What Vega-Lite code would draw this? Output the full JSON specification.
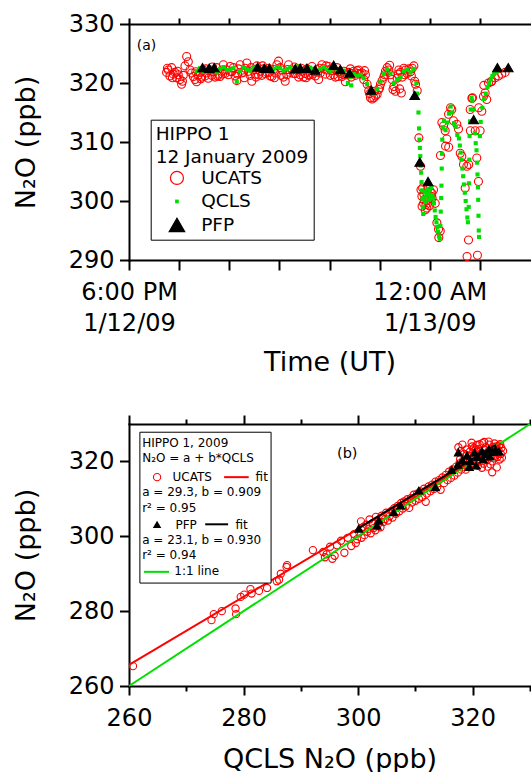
{
"$schema": "https://vega.github.io/schema/vega-lite/v6.json",
"padding": {"left": 12, "top": 12, "right": 0, "bottom": 0},
"background": "white",
"bounds": "flush",
"spacing": 164,
"config": {
  "font": "DejaVu Sans",
  "view": {"stroke": null},
  "axis": {"domainColor": "black", "domainWidth": 2, "domainCap": "square", "tickColor": "black", "tickWidth": 2, "labelColor": "black", "titleColor": "black", "labelFont": "DejaVu Sans", "titleFont": "DejaVu Sans", "labelFontSize": 24, "titleFontSize": 27, "titleFontWeight": "normal", "grid": false, "labelFlush": false, "labelOverlap": false}
},
"datasets": {
  "timeseries": [
{"time":"2009-01-12T18:45Z","n2o":321.8,"inst":"UCATS"},{"time":"2009-01-12T18:46Z","n2o":322.5,"inst":"UCATS"},{"time":"2009-01-12T18:47Z","n2o":322.2,"inst":"UCATS"},{"time":"2009-01-12T18:49Z","n2o":321.2,"inst":"UCATS"},{"time":"2009-01-12T18:51Z","n2o":322.6,"inst":"UCATS"},{"time":"2009-01-12T18:52Z","n2o":320.9,"inst":"UCATS"},{"time":"2009-01-12T18:53Z","n2o":321.5,"inst":"UCATS"},{"time":"2009-01-12T18:55Z","n2o":321.8,"inst":"UCATS"},{"time":"2009-01-12T18:57Z","n2o":320.9,"inst":"UCATS"},{"time":"2009-01-12T18:58Z","n2o":322.0,"inst":"UCATS"},{"time":"2009-01-12T18:59Z","n2o":321.4,"inst":"UCATS"},{"time":"2009-01-12T19:01Z","n2o":320.6,"inst":"UCATS"},{"time":"2009-01-12T19:03Z","n2o":319.8,"inst":"UCATS"},{"time":"2009-01-12T19:04Z","n2o":320.3,"inst":"UCATS"},{"time":"2009-01-12T19:05Z","n2o":321.3,"inst":"UCATS"},{"time":"2009-01-12T19:07Z","n2o":322.9,"inst":"UCATS"},{"time":"2009-01-12T19:09Z","n2o":324.5,"inst":"UCATS"},{"time":"2009-01-12T19:11Z","n2o":323.6,"inst":"UCATS"},{"time":"2009-01-12T19:13Z","n2o":322.2,"inst":"UCATS"},{"time":"2009-01-12T19:15Z","n2o":321.7,"inst":"UCATS"},{"time":"2009-01-12T19:17Z","n2o":321.1,"inst":"UCATS"},{"time":"2009-01-12T19:19Z","n2o":320.6,"inst":"UCATS"},{"time":"2009-01-12T19:20Z","n2o":321.9,"inst":"UCATS"},{"time":"2009-01-12T19:21Z","n2o":320.2,"inst":"UCATS"},{"time":"2009-01-12T19:23Z","n2o":321.3,"inst":"UCATS"},{"time":"2009-01-12T19:25Z","n2o":321.8,"inst":"UCATS"},{"time":"2009-01-12T19:26Z","n2o":320.7,"inst":"UCATS"},{"time":"2009-01-12T19:27Z","n2o":321.0,"inst":"UCATS"},{"time":"2009-01-12T19:29Z","n2o":322.2,"inst":"UCATS"},{"time":"2009-01-12T19:31Z","n2o":321.2,"inst":"UCATS"},{"time":"2009-01-12T19:32Z","n2o":322.4,"inst":"UCATS"},{"time":"2009-01-12T19:33Z","n2o":321.7,"inst":"UCATS"},{"time":"2009-01-12T19:35Z","n2o":320.8,"inst":"UCATS"},{"time":"2009-01-12T19:37Z","n2o":322.2,"inst":"UCATS"},{"time":"2009-01-12T19:39Z","n2o":321.3,"inst":"UCATS"},{"time":"2009-01-12T19:40Z","n2o":322.7,"inst":"UCATS"},{"time":"2009-01-12T19:41Z","n2o":321.9,"inst":"UCATS"},{"time":"2009-01-12T19:43Z","n2o":321.0,"inst":"UCATS"},{"time":"2009-01-12T19:45Z","n2o":322.6,"inst":"UCATS"},{"time":"2009-01-12T19:46Z","n2o":321.2,"inst":"UCATS"},{"time":"2009-01-12T19:47Z","n2o":321.5,"inst":"UCATS"},{"time":"2009-01-12T19:49Z","n2o":321.1,"inst":"UCATS"},{"time":"2009-01-12T19:51Z","n2o":322.0,"inst":"UCATS"},{"time":"2009-01-12T19:52Z","n2o":321.5,"inst":"UCATS"},{"time":"2009-01-12T19:53Z","n2o":323.1,"inst":"UCATS"},{"time":"2009-01-12T19:55Z","n2o":321.6,"inst":"UCATS"},{"time":"2009-01-12T19:57Z","n2o":322.2,"inst":"UCATS"},{"time":"2009-01-12T19:59Z","n2o":321.4,"inst":"UCATS"},{"time":"2009-01-12T20:01Z","n2o":322.8,"inst":"UCATS"},{"time":"2009-01-12T20:02Z","n2o":322.0,"inst":"UCATS"},{"time":"2009-01-12T20:03Z","n2o":321.9,"inst":"UCATS"},{"time":"2009-01-12T20:05Z","n2o":322.6,"inst":"UCATS"},{"time":"2009-01-12T20:07Z","n2o":321.2,"inst":"UCATS"},{"time":"2009-01-12T20:09Z","n2o":320.4,"inst":"UCATS"},{"time":"2009-01-12T20:10Z","n2o":321.5,"inst":"UCATS"},{"time":"2009-01-12T20:11Z","n2o":322.4,"inst":"UCATS"},{"time":"2009-01-12T20:13Z","n2o":323.1,"inst":"UCATS"},{"time":"2009-01-12T20:15Z","n2o":321.7,"inst":"UCATS"},{"time":"2009-01-12T20:17Z","n2o":321.8,"inst":"UCATS"},{"time":"2009-01-12T20:18Z","n2o":320.9,"inst":"UCATS"},{"time":"2009-01-12T20:19Z","n2o":322.5,"inst":"UCATS"},{"time":"2009-01-12T20:21Z","n2o":323.4,"inst":"UCATS"},{"time":"2009-01-12T20:23Z","n2o":322.0,"inst":"UCATS"},{"time":"2009-01-12T20:25Z","n2o":321.3,"inst":"UCATS"},{"time":"2009-01-12T20:26Z","n2o":322.6,"inst":"UCATS"},{"time":"2009-01-12T20:27Z","n2o":320.3,"inst":"UCATS"},{"time":"2009-01-12T20:29Z","n2o":322.2,"inst":"UCATS"},{"time":"2009-01-12T20:31Z","n2o":321.5,"inst":"UCATS"},{"time":"2009-01-12T20:32Z","n2o":321.0,"inst":"UCATS"},{"time":"2009-01-12T20:33Z","n2o":322.9,"inst":"UCATS"},{"time":"2009-01-12T20:35Z","n2o":321.4,"inst":"UCATS"},{"time":"2009-01-12T20:37Z","n2o":322.0,"inst":"UCATS"},{"time":"2009-01-12T20:39Z","n2o":321.3,"inst":"UCATS"},{"time":"2009-01-12T20:40Z","n2o":322.9,"inst":"UCATS"},{"time":"2009-01-12T20:41Z","n2o":322.4,"inst":"UCATS"},{"time":"2009-01-12T20:43Z","n2o":321.6,"inst":"UCATS"},{"time":"2009-01-12T20:45Z","n2o":321.8,"inst":"UCATS"},{"time":"2009-01-12T20:47Z","n2o":322.5,"inst":"UCATS"},{"time":"2009-01-12T20:48Z","n2o":321.8,"inst":"UCATS"},{"time":"2009-01-12T20:49Z","n2o":321.2,"inst":"UCATS"},{"time":"2009-01-12T20:51Z","n2o":321.1,"inst":"UCATS"},{"time":"2009-01-12T20:53Z","n2o":322.3,"inst":"UCATS"},{"time":"2009-01-12T20:54Z","n2o":320.9,"inst":"UCATS"},{"time":"2009-01-12T20:55Z","n2o":321.7,"inst":"UCATS"},{"time":"2009-01-12T20:57Z","n2o":323.1,"inst":"UCATS"},{"time":"2009-01-12T20:59Z","n2o":323.7,"inst":"UCATS"},{"time":"2009-01-12T21:01Z","n2o":322.6,"inst":"UCATS"},{"time":"2009-01-12T21:02Z","n2o":321.3,"inst":"UCATS"},{"time":"2009-01-12T21:03Z","n2o":322.2,"inst":"UCATS"},{"time":"2009-01-12T21:05Z","n2o":321.0,"inst":"UCATS"},{"time":"2009-01-12T21:07Z","n2o":320.3,"inst":"UCATS"},{"time":"2009-01-12T21:09Z","n2o":321.4,"inst":"UCATS"},{"time":"2009-01-12T21:10Z","n2o":322.3,"inst":"UCATS"},{"time":"2009-01-12T21:11Z","n2o":323.1,"inst":"UCATS"},{"time":"2009-01-12T21:13Z","n2o":321.8,"inst":"UCATS"},{"time":"2009-01-12T21:15Z","n2o":322.2,"inst":"UCATS"},{"time":"2009-01-12T21:17Z","n2o":321.6,"inst":"UCATS"},{"time":"2009-01-12T21:18Z","n2o":322.7,"inst":"UCATS"},{"time":"2009-01-12T21:19Z","n2o":321.6,"inst":"UCATS"},{"time":"2009-01-12T21:21Z","n2o":322.4,"inst":"UCATS"},{"time":"2009-01-12T21:23Z","n2o":321.0,"inst":"UCATS"},{"time":"2009-01-12T21:25Z","n2o":321.4,"inst":"UCATS"},{"time":"2009-01-12T21:26Z","n2o":322.5,"inst":"UCATS"},{"time":"2009-01-12T21:27Z","n2o":322.0,"inst":"UCATS"},{"time":"2009-01-12T21:29Z","n2o":321.0,"inst":"UCATS"},{"time":"2009-01-12T21:31Z","n2o":321.6,"inst":"UCATS"},{"time":"2009-01-12T21:32Z","n2o":320.9,"inst":"UCATS"},{"time":"2009-01-12T21:33Z","n2o":322.4,"inst":"UCATS"},{"time":"2009-01-12T21:35Z","n2o":321.3,"inst":"UCATS"},{"time":"2009-01-12T21:37Z","n2o":321.4,"inst":"UCATS"},{"time":"2009-01-12T21:39Z","n2o":322.8,"inst":"UCATS"},{"time":"2009-01-12T21:40Z","n2o":321.5,"inst":"UCATS"},{"time":"2009-01-12T21:41Z","n2o":321.9,"inst":"UCATS"},{"time":"2009-01-12T21:43Z","n2o":321.2,"inst":"UCATS"},{"time":"2009-01-12T21:45Z","n2o":322.3,"inst":"UCATS"},{"time":"2009-01-12T21:47Z","n2o":320.6,"inst":"UCATS"},{"time":"2009-01-12T21:48Z","n2o":322.5,"inst":"UCATS"},{"time":"2009-01-12T21:49Z","n2o":321.7,"inst":"UCATS"},{"time":"2009-01-12T21:51Z","n2o":323.1,"inst":"UCATS"},{"time":"2009-01-12T21:53Z","n2o":322.4,"inst":"UCATS"},{"time":"2009-01-12T21:55Z","n2o":321.5,"inst":"UCATS"},{"time":"2009-01-12T21:56Z","n2o":322.9,"inst":"UCATS"},{"time":"2009-01-12T21:57Z","n2o":322.2,"inst":"UCATS"},{"time":"2009-01-12T21:59Z","n2o":322.8,"inst":"UCATS"},{"time":"2009-01-12T22:01Z","n2o":321.3,"inst":"UCATS"},{"time":"2009-01-12T22:02Z","n2o":322.4,"inst":"UCATS"},{"time":"2009-01-12T22:03Z","n2o":322.1,"inst":"UCATS"},{"time":"2009-01-12T22:05Z","n2o":321.4,"inst":"UCATS"},{"time":"2009-01-12T22:07Z","n2o":321.0,"inst":"UCATS"},{"time":"2009-01-12T22:09Z","n2o":322.6,"inst":"UCATS"},{"time":"2009-01-12T22:10Z","n2o":321.1,"inst":"UCATS"},{"time":"2009-01-12T22:11Z","n2o":321.9,"inst":"UCATS"},{"time":"2009-01-12T22:13Z","n2o":321.6,"inst":"UCATS"},{"time":"2009-01-12T22:15Z","n2o":321.1,"inst":"UCATS"},{"time":"2009-01-12T22:17Z","n2o":322.0,"inst":"UCATS"},{"time":"2009-01-12T22:18Z","n2o":321.4,"inst":"UCATS"},{"time":"2009-01-12T22:19Z","n2o":320.2,"inst":"UCATS"},{"time":"2009-01-12T22:21Z","n2o":321.4,"inst":"UCATS"},{"time":"2009-01-12T22:23Z","n2o":321.8,"inst":"UCATS"},{"time":"2009-01-12T22:25Z","n2o":322.4,"inst":"UCATS"},{"time":"2009-01-12T22:26Z","n2o":321.0,"inst":"UCATS"},{"time":"2009-01-12T22:27Z","n2o":321.6,"inst":"UCATS"},{"time":"2009-01-12T22:29Z","n2o":322.0,"inst":"UCATS"},{"time":"2009-01-12T22:31Z","n2o":321.3,"inst":"UCATS"},{"time":"2009-01-12T22:33Z","n2o":322.1,"inst":"UCATS"},{"time":"2009-01-12T22:34Z","n2o":321.6,"inst":"UCATS"},{"time":"2009-01-12T22:35Z","n2o":322.2,"inst":"UCATS"},{"time":"2009-01-12T22:37Z","n2o":321.5,"inst":"UCATS"},{"time":"2009-01-12T22:39Z","n2o":321.7,"inst":"UCATS"},{"time":"2009-01-12T22:41Z","n2o":320.6,"inst":"UCATS"},{"time":"2009-01-12T22:42Z","n2o":322.1,"inst":"UCATS"},{"time":"2009-01-12T22:43Z","n2o":321.4,"inst":"UCATS"},{"time":"2009-01-12T22:45Z","n2o":319.8,"inst":"UCATS"},{"time":"2009-01-12T22:47Z","n2o":318.7,"inst":"UCATS"},{"time":"2009-01-12T22:48Z","n2o":318.2,"inst":"UCATS"},{"time":"2009-01-12T22:49Z","n2o":317.5,"inst":"UCATS"},{"time":"2009-01-12T22:51Z","n2o":317.3,"inst":"UCATS"},{"time":"2009-01-12T22:53Z","n2o":317.5,"inst":"UCATS"},{"time":"2009-01-12T22:54Z","n2o":318.6,"inst":"UCATS"},{"time":"2009-01-12T22:55Z","n2o":317.8,"inst":"UCATS"},{"time":"2009-01-12T22:57Z","n2o":318.1,"inst":"UCATS"},{"time":"2009-01-12T22:59Z","n2o":318.9,"inst":"UCATS"},{"time":"2009-01-12T23:00Z","n2o":319.2,"inst":"UCATS"},{"time":"2009-01-12T23:01Z","n2o":319.8,"inst":"UCATS"},{"time":"2009-01-12T23:03Z","n2o":320.4,"inst":"UCATS"},{"time":"2009-01-12T23:05Z","n2o":321.0,"inst":"UCATS"},{"time":"2009-01-12T23:06Z","n2o":321.4,"inst":"UCATS"},{"time":"2009-01-12T23:07Z","n2o":322.0,"inst":"UCATS"},{"time":"2009-01-12T23:09Z","n2o":322.6,"inst":"UCATS"},{"time":"2009-01-12T23:11Z","n2o":322.2,"inst":"UCATS"},{"time":"2009-01-12T23:12Z","n2o":323.0,"inst":"UCATS"},{"time":"2009-01-12T23:13Z","n2o":321.4,"inst":"UCATS"},{"time":"2009-01-12T23:15Z","n2o":320.6,"inst":"UCATS"},{"time":"2009-01-12T23:16Z","n2o":318.9,"inst":"UCATS"},{"time":"2009-01-12T23:17Z","n2o":319.4,"inst":"UCATS"},{"time":"2009-01-12T23:19Z","n2o":318.6,"inst":"UCATS"},{"time":"2009-01-12T23:21Z","n2o":320.8,"inst":"UCATS"},{"time":"2009-01-12T23:22Z","n2o":321.5,"inst":"UCATS"},{"time":"2009-01-12T23:23Z","n2o":322.2,"inst":"UCATS"},{"time":"2009-01-12T23:24Z","n2o":319.0,"inst":"UCATS"},{"time":"2009-01-12T23:25Z","n2o":321.8,"inst":"UCATS"},{"time":"2009-01-12T23:26Z","n2o":318.3,"inst":"UCATS"},{"time":"2009-01-12T23:27Z","n2o":321.0,"inst":"UCATS"},{"time":"2009-01-12T23:29Z","n2o":322.5,"inst":"UCATS"},{"time":"2009-01-12T23:30Z","n2o":321.4,"inst":"UCATS"},{"time":"2009-01-12T23:31Z","n2o":322.2,"inst":"UCATS"},{"time":"2009-01-12T23:33Z","n2o":321.6,"inst":"UCATS"},{"time":"2009-01-12T23:35Z","n2o":322.4,"inst":"UCATS"},{"time":"2009-01-12T23:37Z","n2o":321.9,"inst":"UCATS"},{"time":"2009-01-12T23:38Z","n2o":321.2,"inst":"UCATS"},{"time":"2009-01-12T23:39Z","n2o":322.5,"inst":"UCATS"},{"time":"2009-01-12T23:41Z","n2o":322.9,"inst":"UCATS"},{"time":"2009-01-12T23:42Z","n2o":320.3,"inst":"UCATS"},{"time":"2009-01-12T23:43Z","n2o":319.8,"inst":"UCATS"},{"time":"2009-01-12T23:45Z","n2o":318.7,"inst":"UCATS"},
{"time":"2009-01-12T23:47:00Z","n2o":310.7,"inst":"UCATS"},{"time":"2009-01-12T23:49:00Z","n2o":305.9,"inst":"UCATS"},{"time":"2009-01-12T23:49:30Z","n2o":301.9,"inst":"UCATS"},{"time":"2009-01-12T23:50:35Z","n2o":300.8,"inst":"UCATS"},{"time":"2009-01-12T23:50:50Z","n2o":299.1,"inst":"UCATS"},{"time":"2009-01-12T23:51:30Z","n2o":302.2,"inst":"UCATS"},{"time":"2009-01-12T23:52:35Z","n2o":299.6,"inst":"UCATS"},{"time":"2009-01-12T23:52:50Z","n2o":301.2,"inst":"UCATS"},{"time":"2009-01-12T23:53:30Z","n2o":300.2,"inst":"UCATS"},{"time":"2009-01-12T23:54:36Z","n2o":298.5,"inst":"UCATS"},{"time":"2009-01-12T23:55:30Z","n2o":299.4,"inst":"UCATS"},{"time":"2009-01-12T23:56:32Z","n2o":298.8,"inst":"UCATS"},{"time":"2009-01-12T23:56:50Z","n2o":301.0,"inst":"UCATS"},{"time":"2009-01-12T23:57:30Z","n2o":302.0,"inst":"UCATS"},{"time":"2009-01-12T23:58:34Z","n2o":300.3,"inst":"UCATS"},{"time":"2009-01-12T23:59:30Z","n2o":299.2,"inst":"UCATS"},{"time":"2009-01-13T00:00:36Z","n2o":301.6,"inst":"UCATS"},{"time":"2009-01-13T00:01:30Z","n2o":300.8,"inst":"UCATS"},{"time":"2009-01-13T00:02:30Z","n2o":301.3,"inst":"UCATS"},{"time":"2009-01-13T00:02:50Z","n2o":300.5,"inst":"UCATS"},{"time":"2009-01-13T00:04:30Z","n2o":301.9,"inst":"UCATS"},{"time":"2009-01-13T00:06:36Z","n2o":299.6,"inst":"UCATS"},{"time":"2009-01-13T00:08:30Z","n2o":296.3,"inst":"UCATS"},{"time":"2009-01-13T00:10:30Z","n2o":295.2,"inst":"UCATS"},{"time":"2009-01-13T00:10:50Z","n2o":293.8,"inst":"UCATS"},{"time":"2009-01-13T00:12:36Z","n2o":294.9,"inst":"UCATS"},{"time":"2009-01-13T00:12:50Z","n2o":307.7,"inst":"UCATS"},{"time":"2009-01-13T00:14:30Z","n2o":313.3,"inst":"UCATS"},{"time":"2009-01-13T00:16:30Z","n2o":312.7,"inst":"UCATS"},{"time":"2009-01-13T00:18:30Z","n2o":311.9,"inst":"UCATS"},{"time":"2009-01-13T00:18:54Z","n2o":309.3,"inst":"UCATS"},{"time":"2009-01-13T00:20:24Z","n2o":310.5,"inst":"UCATS"},{"time":"2009-01-13T00:22:30Z","n2o":314.7,"inst":"UCATS"},{"time":"2009-01-13T00:22:40Z","n2o":309.1,"inst":"UCATS"},{"time":"2009-01-13T00:24:54Z","n2o":315.8,"inst":"UCATS"},{"time":"2009-01-13T00:26:24Z","n2o":315.5,"inst":"UCATS"},{"time":"2009-01-13T00:28:24Z","n2o":313.6,"inst":"UCATS"},{"time":"2009-01-13T00:32:24Z","n2o":313.0,"inst":"UCATS"},{"time":"2009-01-13T00:34:24Z","n2o":312.2,"inst":"UCATS"},{"time":"2009-01-13T00:36:30Z","n2o":308.1,"inst":"UCATS"},{"time":"2009-01-13T00:38:24Z","n2o":307.6,"inst":"UCATS"},{"time":"2009-01-13T00:40:24Z","n2o":306.2,"inst":"UCATS"},{"time":"2009-01-13T00:42:24Z","n2o":302.2,"inst":"UCATS"},{"time":"2009-01-13T00:44:24Z","n2o":305.9,"inst":"UCATS"},{"time":"2009-01-13T00:44:40Z","n2o":290.6,"inst":"UCATS"},{"time":"2009-01-13T00:46:24Z","n2o":293.4,"inst":"UCATS"},{"time":"2009-01-13T00:46:40Z","n2o":306.2,"inst":"UCATS"},{"time":"2009-01-13T00:48:24Z","n2o":315.5,"inst":"UCATS"},{"time":"2009-01-13T00:48:40Z","n2o":311.9,"inst":"UCATS"},{"time":"2009-01-13T00:50:24Z","n2o":317.4,"inst":"UCATS"},{"time":"2009-01-13T00:51:12Z","n2o":317.5,"inst":"UCATS"},{"time":"2009-01-13T00:54:24Z","n2o":311.9,"inst":"UCATS"},{"time":"2009-01-13T00:56:18Z","n2o":307.3,"inst":"UCATS"},{"time":"2009-01-13T00:57:06Z","n2o":290.8,"inst":"UCATS"},{"time":"2009-01-13T00:58:18Z","n2o":303.3,"inst":"UCATS"},{"time":"2009-01-13T00:58:40Z","n2o":315.8,"inst":"UCATS"},{"time":"2009-01-13T01:00:18Z","n2o":311.9,"inst":"UCATS"},{"time":"2009-01-13T01:02:18Z","n2o":315.2,"inst":"UCATS"},{"time":"2009-01-13T01:04:18Z","n2o":317.7,"inst":"UCATS"},{"time":"2009-01-13T01:04:40Z","n2o":319.6,"inst":"UCATS"},{"time":"2009-01-13T01:06:18Z","n2o":318.3,"inst":"UCATS"},{"time":"2009-01-13T01:08:12Z","n2o":317.2,"inst":"UCATS"},{"time":"2009-01-13T01:10:18Z","n2o":320.0,"inst":"UCATS"},{"time":"2009-01-13T01:13:30Z","n2o":320.2,"inst":"UCATS"},{"time":"2009-01-13T01:14:12Z","n2o":320.3,"inst":"UCATS"},{"time":"2009-01-13T01:18:18Z","n2o":320.9,"inst":"UCATS"},{"time":"2009-01-13T01:22:12Z","n2o":321.2,"inst":"UCATS"},{"time":"2009-01-13T01:26:12Z","n2o":321.5,"inst":"UCATS"},{"time":"2009-01-13T01:30:12Z","n2o":321.8,"inst":"UCATS"},
{"time":"2009-01-12T19:21Z","n2o":322.0,"inst":"QCLS"},{"time":"2009-01-12T19:25Z","n2o":322.5,"inst":"QCLS"},{"time":"2009-01-12T19:29Z","n2o":321.9,"inst":"QCLS"},{"time":"2009-01-12T19:33Z","n2o":322.3,"inst":"QCLS"},{"time":"2009-01-12T19:37Z","n2o":322.6,"inst":"QCLS"},{"time":"2009-01-12T19:41Z","n2o":322.1,"inst":"QCLS"},{"time":"2009-01-12T19:45Z","n2o":321.8,"inst":"QCLS"},{"time":"2009-01-12T19:49Z","n2o":322.4,"inst":"QCLS"},{"time":"2009-01-12T19:53Z","n2o":322.7,"inst":"QCLS"},{"time":"2009-01-12T19:57Z","n2o":322.2,"inst":"QCLS"},{"time":"2009-01-12T20:01Z","n2o":322.3,"inst":"QCLS"},{"time":"2009-01-12T20:05Z","n2o":322.5,"inst":"QCLS"},{"time":"2009-01-12T20:09Z","n2o":320.2,"inst":"QCLS"},{"time":"2009-01-12T20:13Z","n2o":322.0,"inst":"QCLS"},{"time":"2009-01-12T20:17Z","n2o":322.6,"inst":"QCLS"},{"time":"2009-01-12T20:21Z","n2o":322.3,"inst":"QCLS"},{"time":"2009-01-12T20:25Z","n2o":322.1,"inst":"QCLS"},{"time":"2009-01-12T20:29Z","n2o":322.5,"inst":"QCLS"},{"time":"2009-01-12T20:33Z","n2o":322.8,"inst":"QCLS"},{"time":"2009-01-12T20:37Z","n2o":322.2,"inst":"QCLS"},{"time":"2009-01-12T20:41Z","n2o":322.4,"inst":"QCLS"},{"time":"2009-01-12T20:45Z","n2o":322.0,"inst":"QCLS"},{"time":"2009-01-12T20:49Z","n2o":322.6,"inst":"QCLS"},{"time":"2009-01-12T20:53Z","n2o":322.3,"inst":"QCLS"},{"time":"2009-01-12T20:57Z","n2o":322.7,"inst":"QCLS"},{"time":"2009-01-12T21:01Z","n2o":322.5,"inst":"QCLS"},{"time":"2009-01-12T21:05Z","n2o":322.1,"inst":"QCLS"},{"time":"2009-01-12T21:09Z","n2o":322.4,"inst":"QCLS"},{"time":"2009-01-12T21:13Z","n2o":322.6,"inst":"QCLS"},{"time":"2009-01-12T21:17Z","n2o":322.2,"inst":"QCLS"},{"time":"2009-01-12T21:21Z","n2o":322.8,"inst":"QCLS"},{"time":"2009-01-12T21:25Z","n2o":322.4,"inst":"QCLS"},{"time":"2009-01-12T21:29Z","n2o":322.0,"inst":"QCLS"},{"time":"2009-01-12T21:33Z","n2o":322.3,"inst":"QCLS"},{"time":"2009-01-12T21:37Z","n2o":322.6,"inst":"QCLS"},{"time":"2009-01-12T21:41Z","n2o":322.2,"inst":"QCLS"},{"time":"2009-01-12T21:45Z","n2o":321.9,"inst":"QCLS"},{"time":"2009-01-12T21:49Z","n2o":322.4,"inst":"QCLS"},{"time":"2009-01-12T21:53Z","n2o":322.7,"inst":"QCLS"},{"time":"2009-01-12T21:57Z","n2o":322.3,"inst":"QCLS"},{"time":"2009-01-12T22:01Z","n2o":322.0,"inst":"QCLS"},{"time":"2009-01-12T22:05Z","n2o":322.5,"inst":"QCLS"},{"time":"2009-01-12T22:09Z","n2o":322.3,"inst":"QCLS"},{"time":"2009-01-12T22:13Z","n2o":321.8,"inst":"QCLS"},{"time":"2009-01-12T22:17Z","n2o":322.1,"inst":"QCLS"},{"time":"2009-01-12T22:21Z","n2o":321.4,"inst":"QCLS"},{"time":"2009-01-12T22:22Z","n2o":320.0,"inst":"QCLS"},{"time":"2009-01-12T22:25Z","n2o":321.0,"inst":"QCLS"},{"time":"2009-01-12T22:26Z","n2o":319.6,"inst":"QCLS"},{"time":"2009-01-12T22:29Z","n2o":321.5,"inst":"QCLS"},{"time":"2009-01-12T22:33Z","n2o":321.2,"inst":"QCLS"},{"time":"2009-01-12T22:37Z","n2o":321.4,"inst":"QCLS"},{"time":"2009-01-12T22:41Z","n2o":320.8,"inst":"QCLS"},{"time":"2009-01-12T22:45Z","n2o":319.8,"inst":"QCLS"},{"time":"2009-01-12T22:49Z","n2o":318.5,"inst":"QCLS"},{"time":"2009-01-12T22:53Z","n2o":318.2,"inst":"QCLS"},{"time":"2009-01-12T22:57Z","n2o":319.0,"inst":"QCLS"},{"time":"2009-01-12T23:01Z","n2o":320.2,"inst":"QCLS"},{"time":"2009-01-12T23:05Z","n2o":321.5,"inst":"QCLS"},{"time":"2009-01-12T23:09Z","n2o":322.3,"inst":"QCLS"},{"time":"2009-01-12T23:13Z","n2o":321.6,"inst":"QCLS"},{"time":"2009-01-12T23:17Z","n2o":320.0,"inst":"QCLS"},{"time":"2009-01-12T23:21Z","n2o":320.5,"inst":"QCLS"},{"time":"2009-01-12T23:25Z","n2o":321.0,"inst":"QCLS"},{"time":"2009-01-12T23:29Z","n2o":322.0,"inst":"QCLS"},{"time":"2009-01-12T23:33Z","n2o":322.3,"inst":"QCLS"},{"time":"2009-01-12T23:37Z","n2o":321.8,"inst":"QCLS"},{"time":"2009-01-12T23:41Z","n2o":322.4,"inst":"QCLS"},{"time":"2009-01-12T23:44Z","n2o":320.0,"inst":"QCLS"},{"time":"2009-01-12T23:45Z","n2o":318.2,"inst":"QCLS"},
{"time":"2009-01-12T23:46:30Z","n2o":315.0,"inst":"QCLS"},{"time":"2009-01-12T23:47:10Z","n2o":312.3,"inst":"QCLS"},{"time":"2009-01-12T23:47:40Z","n2o":310.4,"inst":"QCLS"},{"time":"2009-01-12T23:48:10Z","n2o":309.0,"inst":"QCLS"},{"time":"2009-01-12T23:48:40Z","n2o":307.6,"inst":"QCLS"},{"time":"2009-01-12T23:49:10Z","n2o":306.0,"inst":"QCLS"},{"time":"2009-01-12T23:49:40Z","n2o":304.8,"inst":"QCLS"},{"time":"2009-01-12T23:50:10Z","n2o":303.2,"inst":"QCLS"},{"time":"2009-01-12T23:50:40Z","n2o":301.8,"inst":"QCLS"},{"time":"2009-01-12T23:51:10Z","n2o":300.4,"inst":"QCLS"},{"time":"2009-01-12T23:51:40Z","n2o":299.0,"inst":"QCLS"},{"time":"2009-01-12T23:52:10Z","n2o":297.8,"inst":"QCLS"},{"time":"2009-01-12T23:53:00Z","n2o":300.5,"inst":"QCLS"},{"time":"2009-01-12T23:54:00Z","n2o":301.5,"inst":"QCLS"},{"time":"2009-01-12T23:55:00Z","n2o":299.8,"inst":"QCLS"},{"time":"2009-01-12T23:56:00Z","n2o":300.8,"inst":"QCLS"},{"time":"2009-01-12T23:57:00Z","n2o":302.0,"inst":"QCLS"},{"time":"2009-01-12T23:58:00Z","n2o":301.2,"inst":"QCLS"},{"time":"2009-01-12T23:59:00Z","n2o":300.2,"inst":"QCLS"},{"time":"2009-01-13T00:00:00Z","n2o":301.8,"inst":"QCLS"},{"time":"2009-01-13T00:01:00Z","n2o":300.9,"inst":"QCLS"},{"time":"2009-01-13T00:02:00Z","n2o":302.3,"inst":"QCLS"},{"time":"2009-01-13T00:03:00Z","n2o":301.0,"inst":"QCLS"},{"time":"2009-01-13T00:04:00Z","n2o":300.4,"inst":"QCLS"},{"time":"2009-01-13T00:05:00Z","n2o":299.6,"inst":"QCLS"},{"time":"2009-01-13T00:06:00Z","n2o":298.4,"inst":"QCLS"},{"time":"2009-01-13T00:07:00Z","n2o":297.3,"inst":"QCLS"},{"time":"2009-01-13T00:08:00Z","n2o":296.4,"inst":"QCLS"},{"time":"2009-01-13T00:09:00Z","n2o":295.6,"inst":"QCLS"},{"time":"2009-01-13T00:10:00Z","n2o":294.8,"inst":"QCLS"},{"time":"2009-01-13T00:11:00Z","n2o":294.0,"inst":"QCLS"},{"time":"2009-01-13T00:12:00Z","n2o":293.6,"inst":"QCLS"},{"time":"2009-01-13T00:12:40Z","n2o":295.8,"inst":"QCLS"},{"time":"2009-01-13T00:13:10Z","n2o":298.2,"inst":"QCLS"},{"time":"2009-01-13T00:13:40Z","n2o":300.5,"inst":"QCLS"},{"time":"2009-01-13T00:14:00Z","n2o":302.6,"inst":"QCLS"},{"time":"2009-01-13T00:14:20Z","n2o":305.5,"inst":"QCLS"},{"time":"2009-01-13T00:14:40Z","n2o":308.0,"inst":"QCLS"},{"time":"2009-01-13T00:15:00Z","n2o":310.4,"inst":"QCLS"},{"time":"2009-01-13T00:15:30Z","n2o":312.5,"inst":"QCLS"},{"time":"2009-01-13T00:17:00Z","n2o":313.6,"inst":"QCLS"},{"time":"2009-01-13T00:19:00Z","n2o":312.0,"inst":"QCLS"},{"time":"2009-01-13T00:21:00Z","n2o":313.3,"inst":"QCLS"},{"time":"2009-01-13T00:23:00Z","n2o":314.8,"inst":"QCLS"},{"time":"2009-01-13T00:25:00Z","n2o":316.0,"inst":"QCLS"},{"time":"2009-01-13T00:27:00Z","n2o":315.0,"inst":"QCLS"},{"time":"2009-01-13T00:29:00Z","n2o":313.2,"inst":"QCLS"},{"time":"2009-01-13T00:31:00Z","n2o":312.6,"inst":"QCLS"},{"time":"2009-01-13T00:33:00Z","n2o":311.2,"inst":"QCLS"},{"time":"2009-01-13T00:35:00Z","n2o":310.6,"inst":"QCLS"},{"time":"2009-01-13T00:36:00Z","n2o":309.4,"inst":"QCLS"},{"time":"2009-01-13T00:37:00Z","n2o":308.2,"inst":"QCLS"},{"time":"2009-01-13T00:38:00Z","n2o":307.0,"inst":"QCLS"},{"time":"2009-01-13T00:39:00Z","n2o":305.5,"inst":"QCLS"},{"time":"2009-01-13T00:40:00Z","n2o":304.2,"inst":"QCLS"},{"time":"2009-01-13T00:41:00Z","n2o":302.8,"inst":"QCLS"},{"time":"2009-01-13T00:42:00Z","n2o":301.4,"inst":"QCLS"},{"time":"2009-01-13T00:43:00Z","n2o":300.0,"inst":"QCLS"},{"time":"2009-01-13T00:44:00Z","n2o":298.6,"inst":"QCLS"},{"time":"2009-01-13T00:45:00Z","n2o":297.2,"inst":"QCLS"},{"time":"2009-01-13T00:45:40Z","n2o":296.4,"inst":"QCLS"},{"time":"2009-01-13T00:46:40Z","n2o":299.0,"inst":"QCLS"},{"time":"2009-01-13T00:47:00Z","n2o":303.0,"inst":"QCLS"},{"time":"2009-01-13T00:47:20Z","n2o":307.0,"inst":"QCLS"},{"time":"2009-01-13T00:47:40Z","n2o":311.0,"inst":"QCLS"},{"time":"2009-01-13T00:48:10Z","n2o":313.5,"inst":"QCLS"},{"time":"2009-01-13T00:49:00Z","n2o":315.5,"inst":"QCLS"},{"time":"2009-01-13T00:50:00Z","n2o":317.5,"inst":"QCLS"},{"time":"2009-01-13T00:51:00Z","n2o":317.0,"inst":"QCLS"},{"time":"2009-01-13T00:52:00Z","n2o":315.5,"inst":"QCLS"},{"time":"2009-01-13T00:53:00Z","n2o":313.5,"inst":"QCLS"},{"time":"2009-01-13T00:54:00Z","n2o":311.5,"inst":"QCLS"},{"time":"2009-01-13T00:55:00Z","n2o":309.8,"inst":"QCLS"},{"time":"2009-01-13T00:56:00Z","n2o":308.6,"inst":"QCLS"},{"time":"2009-01-13T00:56:40Z","n2o":306.5,"inst":"QCLS"},{"time":"2009-01-13T00:57:10Z","n2o":304.5,"inst":"QCLS"},{"time":"2009-01-13T00:57:40Z","n2o":302.3,"inst":"QCLS"},{"time":"2009-01-13T00:58:00Z","n2o":300.2,"inst":"QCLS"},{"time":"2009-01-13T00:58:20Z","n2o":297.5,"inst":"QCLS"},{"time":"2009-01-13T00:58:40Z","n2o":295.0,"inst":"QCLS"},{"time":"2009-01-13T00:59:00Z","n2o":293.9,"inst":"QCLS"},{"time":"2009-01-13T01:00:00Z","n2o":311.0,"inst":"QCLS"},{"time":"2009-01-13T01:01:00Z","n2o":313.4,"inst":"QCLS"},{"time":"2009-01-13T01:03:00Z","n2o":315.8,"inst":"QCLS"},{"time":"2009-01-13T01:05:00Z","n2o":317.3,"inst":"QCLS"},{"time":"2009-01-13T01:07:00Z","n2o":318.2,"inst":"QCLS"},{"time":"2009-01-13T01:09:00Z","n2o":319.3,"inst":"QCLS"},{"time":"2009-01-13T01:11:00Z","n2o":320.0,"inst":"QCLS"},{"time":"2009-01-13T01:13:00Z","n2o":320.6,"inst":"QCLS"},{"time":"2009-01-13T01:15:00Z","n2o":321.2,"inst":"QCLS"},{"time":"2009-01-13T01:17:00Z","n2o":321.5,"inst":"QCLS"},{"time":"2009-01-13T01:19:00Z","n2o":321.8,"inst":"QCLS"},{"time":"2009-01-13T01:21:00Z","n2o":322.0,"inst":"QCLS"},{"time":"2009-01-13T01:23:00Z","n2o":322.2,"inst":"QCLS"},
{"time":"2009-01-12T19:28Z","n2o":322.6,"inst":"PFP"},{"time":"2009-01-12T19:36Z","n2o":322.5,"inst":"PFP"},{"time":"2009-01-12T19:42Z","n2o":322.6,"inst":"PFP"},{"time":"2009-01-12T20:34Z","n2o":322.7,"inst":"PFP"},{"time":"2009-01-12T20:42Z","n2o":322.5,"inst":"PFP"},{"time":"2009-01-12T20:48Z","n2o":322.5,"inst":"PFP"},{"time":"2009-01-12T21:19Z","n2o":322.4,"inst":"PFP"},{"time":"2009-01-12T21:25Z","n2o":322.5,"inst":"PFP"},{"time":"2009-01-12T21:33Z","n2o":322.5,"inst":"PFP"},{"time":"2009-01-12T21:43Z","n2o":322.2,"inst":"PFP"},{"time":"2009-01-12T22:05Z","n2o":323.0,"inst":"PFP"},{"time":"2009-01-12T22:13Z","n2o":322.3,"inst":"PFP"},{"time":"2009-01-12T22:24Z","n2o":321.7,"inst":"PFP"},{"time":"2009-01-12T22:50Z","n2o":318.8,"inst":"PFP"},{"time":"2009-01-12T23:42Z","n2o":317.9,"inst":"PFP"},{"time":"2009-01-12T23:48Z","n2o":306.6,"inst":"PFP"},{"time":"2009-01-12T23:58Z","n2o":303.3,"inst":"PFP"},{"time":"2009-01-13T00:52:30Z","n2o":313.8,"inst":"PFP"},{"time":"2009-01-13T01:21Z","n2o":322.6,"inst":"PFP"},{"time":"2009-01-13T01:34Z","n2o":322.6,"inst":"PFP"}
  ],
  "scatter": [
{"inst":"UCATS","qcls":260.7,"n2o":265.3},{"inst":"UCATS","qcls":274.4,"n2o":277.6},{"inst":"UCATS","qcls":274.8,"n2o":279.2},{"inst":"UCATS","qcls":276.2,"n2o":280.0},{"inst":"UCATS","qcls":278.6,"n2o":280.7},{"inst":"UCATS","qcls":278.7,"n2o":279.2},{"inst":"UCATS","qcls":279.5,"n2o":283.8},{"inst":"UCATS","qcls":280.1,"n2o":284.4},{"inst":"UCATS","qcls":281.2,"n2o":285.9},{"inst":"UCATS","qcls":281.4,"n2o":284.7},{"inst":"UCATS","qcls":282.7,"n2o":285.4},{"inst":"UCATS","qcls":284.1,"n2o":286.2},{"inst":"UCATS","qcls":285.8,"n2o":288.0},{"inst":"UCATS","qcls":286.2,"n2o":288.4},{"inst":"UCATS","qcls":286.5,"n2o":290.0},{"inst":"UCATS","qcls":287.5,"n2o":291.8},{"inst":"UCATS","qcls":287.6,"n2o":292.3},{"inst":"UCATS","qcls":292.1,"n2o":296.3},{"inst":"UCATS","qcls":293.9,"n2o":295.8},
{"inst":"UCATS","qcls":294.2,"n2o":294.4},{"inst":"UCATS","qcls":294.5,"n2o":295.2},{"inst":"UCATS","qcls":295.1,"n2o":297.2},{"inst":"UCATS","qcls":295.5,"n2o":294.0},{"inst":"UCATS","qcls":295.9,"n2o":294.8},{"inst":"UCATS","qcls":296.3,"n2o":297.6},{"inst":"UCATS","qcls":297.0,"n2o":298.8},{"inst":"UCATS","qcls":297.6,"n2o":295.6},{"inst":"UCATS","qcls":298.2,"n2o":299.6},{"inst":"UCATS","qcls":298.8,"n2o":297.4},{"inst":"UCATS","qcls":299.3,"n2o":300.6},{"inst":"UCATS","qcls":299.6,"n2o":298.2},{"inst":"UCATS","qcls":299.8,"n2o":299.2},
{"inst":"UCATS","qcls":300.2,"n2o":301.0},{"inst":"UCATS","qcls":300.5,"n2o":304.0},{"inst":"UCATS","qcls":300.6,"n2o":299.6},{"inst":"UCATS","qcls":300.9,"n2o":302.5},{"inst":"UCATS","qcls":301.1,"n2o":300.3},{"inst":"UCATS","qcls":301.4,"n2o":303.1},{"inst":"UCATS","qcls":301.6,"n2o":301.2},{"inst":"UCATS","qcls":301.8,"n2o":302.0},{"inst":"UCATS","qcls":302.0,"n2o":304.5},{"inst":"UCATS","qcls":302.2,"n2o":300.8},{"inst":"UCATS","qcls":302.5,"n2o":303.5},{"inst":"UCATS","qcls":302.7,"n2o":302.2},{"inst":"UCATS","qcls":303.0,"n2o":301.6},{"inst":"UCATS","qcls":303.1,"n2o":305.2},{"inst":"UCATS","qcls":303.4,"n2o":303.0},{"inst":"UCATS","qcls":303.6,"n2o":304.0},{"inst":"UCATS","qcls":303.9,"n2o":302.4},{"inst":"UCATS","qcls":304.1,"n2o":305.5},{"inst":"UCATS","qcls":304.4,"n2o":303.8},{"inst":"UCATS","qcls":304.7,"n2o":304.6},{"inst":"UCATS","qcls":304.9,"n2o":306.3},{"inst":"UCATS","qcls":305.2,"n2o":304.2},{"inst":"UCATS","qcls":305.5,"n2o":305.4},{"inst":"UCATS","qcls":305.8,"n2o":306.8},{"inst":"UCATS","qcls":306.0,"n2o":305.0},
{"inst":"UCATS","qcls":306.3,"n2o":307.5},{"inst":"UCATS","qcls":306.6,"n2o":306.0},{"inst":"UCATS","qcls":306.9,"n2o":308.1},{"inst":"UCATS","qcls":307.2,"n2o":306.7},{"inst":"UCATS","qcls":307.5,"n2o":308.9},{"inst":"UCATS","qcls":307.8,"n2o":307.4},{"inst":"UCATS","qcls":308.0,"n2o":309.3},{"inst":"UCATS","qcls":308.3,"n2o":308.0},{"inst":"UCATS","qcls":308.6,"n2o":309.9},{"inst":"UCATS","qcls":308.9,"n2o":307.6},{"inst":"UCATS","qcls":309.2,"n2o":310.2},{"inst":"UCATS","qcls":309.4,"n2o":309.0},{"inst":"UCATS","qcls":309.7,"n2o":311.1},{"inst":"UCATS","qcls":310.0,"n2o":309.5},{"inst":"UCATS","qcls":310.3,"n2o":311.4},{"inst":"UCATS","qcls":310.6,"n2o":310.0},{"inst":"UCATS","qcls":310.9,"n2o":312.0},{"inst":"UCATS","qcls":311.2,"n2o":310.5},{"inst":"UCATS","qcls":311.5,"n2o":312.7},{"inst":"UCATS","qcls":311.8,"n2o":309.2},{"inst":"UCATS","qcls":312.0,"n2o":311.4},{"inst":"UCATS","qcls":312.3,"n2o":313.3},
{"inst":"UCATS","qcls":312.6,"n2o":312.0},{"inst":"UCATS","qcls":312.9,"n2o":313.8},{"inst":"UCATS","qcls":313.2,"n2o":312.6},{"inst":"UCATS","qcls":313.5,"n2o":314.6},{"inst":"UCATS","qcls":313.8,"n2o":313.2},{"inst":"UCATS","qcls":314.1,"n2o":315.0},{"inst":"UCATS","qcls":314.4,"n2o":312.4},{"inst":"UCATS","qcls":314.7,"n2o":315.7},{"inst":"UCATS","qcls":315.0,"n2o":314.2},{"inst":"UCATS","qcls":315.3,"n2o":316.4},{"inst":"UCATS","qcls":315.6,"n2o":315.0},{"inst":"UCATS","qcls":315.9,"n2o":317.3},{"inst":"UCATS","qcls":316.2,"n2o":315.6},{"inst":"UCATS","qcls":316.5,"n2o":317.9},{"inst":"UCATS","qcls":316.8,"n2o":316.2},{"inst":"UCATS","qcls":317.1,"n2o":318.6},{"inst":"UCATS","qcls":317.4,"n2o":317.0},{"inst":"UCATS","qcls":317.7,"n2o":319.5},{"inst":"UCATS","qcls":318.0,"n2o":317.8},
{"inst":"UCATS","qcls":318.3,"n2o":320.2},{"inst":"UCATS","qcls":318.5,"n2o":322.0},{"inst":"UCATS","qcls":318.7,"n2o":319.0},{"inst":"UCATS","qcls":318.9,"n2o":323.2},{"inst":"UCATS","qcls":319.1,"n2o":320.8},{"inst":"UCATS","qcls":319.3,"n2o":318.5},{"inst":"UCATS","qcls":319.5,"n2o":322.6},{"inst":"UCATS","qcls":319.7,"n2o":321.4},{"inst":"UCATS","qcls":319.9,"n2o":324.0},{"inst":"UCATS","qcls":320.1,"n2o":319.6},{"inst":"UCATS","qcls":320.3,"n2o":322.9},{"inst":"UCATS","qcls":320.5,"n2o":321.0},{"inst":"UCATS","qcls":320.7,"n2o":324.4},{"inst":"UCATS","qcls":320.9,"n2o":318.8},{"inst":"UCATS","qcls":321.1,"n2o":323.3},{"inst":"UCATS","qcls":321.3,"n2o":320.6},{"inst":"UCATS","qcls":321.5,"n2o":322.2},{"inst":"UCATS","qcls":321.7,"n2o":324.9},{"inst":"UCATS","qcls":321.9,"n2o":319.4},{"inst":"UCATS","qcls":322.1,"n2o":321.8},{"inst":"UCATS","qcls":322.3,"n2o":323.8},{"inst":"UCATS","qcls":322.5,"n2o":320.3},{"inst":"UCATS","qcls":322.7,"n2o":322.7},{"inst":"UCATS","qcls":322.9,"n2o":324.5},{"inst":"UCATS","qcls":323.1,"n2o":319.2},{"inst":"UCATS","qcls":323.3,"n2o":321.5},{"inst":"UCATS","qcls":323.5,"n2o":323.4},{"inst":"UCATS","qcls":323.7,"n2o":320.8},{"inst":"UCATS","qcls":323.9,"n2o":322.4},{"inst":"UCATS","qcls":324.1,"n2o":324.0},{"inst":"UCATS","qcls":324.3,"n2o":321.2},{"inst":"UCATS","qcls":324.5,"n2o":323.0},{"inst":"UCATS","qcls":324.7,"n2o":320.5},{"inst":"UCATS","qcls":324.9,"n2o":322.0},{"inst":"UCATS","qcls":325.1,"n2o":321.0},{"inst":"UCATS","qcls":319.0,"n2o":321.7},{"inst":"UCATS","qcls":319.6,"n2o":320.0},{"inst":"UCATS","qcls":320.2,"n2o":323.6},{"inst":"UCATS","qcls":320.8,"n2o":320.1},{"inst":"UCATS","qcls":321.4,"n2o":321.6},{"inst":"UCATS","qcls":322.0,"n2o":325.2},{"inst":"UCATS","qcls":322.6,"n2o":318.6},{"inst":"UCATS","qcls":323.2,"n2o":322.9},{"inst":"UCATS","qcls":323.8,"n2o":324.8},{"inst":"UCATS","qcls":324.4,"n2o":322.3},{"inst":"UCATS","qcls":325.0,"n2o":323.6},{"inst":"UCATS","qcls":321.0,"n2o":322.5},{"inst":"UCATS","qcls":322.2,"n2o":323.0},{"inst":"UCATS","qcls":323.4,"n2o":320.0},{"inst":"UCATS","qcls":324.6,"n2o":324.2},{"inst":"UCATS","qcls":320.4,"n2o":319.2},{"inst":"UCATS","qcls":321.6,"n2o":318.3},{"inst":"UCATS","qcls":323.4,"n2o":317.1},{"inst":"UCATS","qcls":324.2,"n2o":318.4},{"inst":"UCATS","qcls":318.8,"n2o":317.8},{"inst":"UCATS","qcls":319.8,"n2o":325.0},{"inst":"UCATS","qcls":321.2,"n2o":324.6},{"inst":"UCATS","qcls":322.8,"n2o":325.3},{"inst":"UCATS","qcls":324.8,"n2o":324.6},{"inst":"UCATS","qcls":325.3,"n2o":322.8},{"inst":"UCATS","qcls":317.8,"n2o":320.6},{"inst":"UCATS","qcls":318.4,"n2o":318.6},{"inst":"UCATS","qcls":320.6,"n2o":323.2},{"inst":"UCATS","qcls":322.4,"n2o":321.1},{"inst":"UCATS","qcls":323.6,"n2o":323.9},{"inst":"UCATS","qcls":317.5,"n2o":323.8},{"inst":"UCATS","qcls":318.2,"n2o":324.5},{"inst":"UCATS","qcls":317.9,"n2o":322.8},
{"inst":"PFP","qcls":300.1,"n2o":302.1},{"inst":"PFP","qcls":303.3,"n2o":302.9},{"inst":"PFP","qcls":303.6,"n2o":304.3},{"inst":"PFP","qcls":306.2,"n2o":306.5},{"inst":"PFP","qcls":307.4,"n2o":308.3},{"inst":"PFP","qcls":310.6,"n2o":312.3},{"inst":"PFP","qcls":313.5,"n2o":313.2},{"inst":"PFP","qcls":317.5,"n2o":322.5},{"inst":"PFP","qcls":316.3,"n2o":317.8},{"inst":"PFP","qcls":317.4,"n2o":319.2},{"inst":"PFP","qcls":318.2,"n2o":320.4},{"inst":"PFP","qcls":319.0,"n2o":321.6},{"inst":"PFP","qcls":319.6,"n2o":320.2},{"inst":"PFP","qcls":320.3,"n2o":322.4},{"inst":"PFP","qcls":320.9,"n2o":321.3},{"inst":"PFP","qcls":321.6,"n2o":322.8},{"inst":"PFP","qcls":322.2,"n2o":322.1},{"inst":"PFP","qcls":322.8,"n2o":323.3},{"inst":"PFP","qcls":323.4,"n2o":322.6},{"inst":"PFP","qcls":324.0,"n2o":323.2},{"inst":"PFP","qcls":324.6,"n2o":322.7},{"inst":"PFP","qcls":320.6,"n2o":319.0},{"inst":"PFP","qcls":319.4,"n2o":318.6},{"inst":"PFP","qcls":321.8,"n2o":320.6},{"inst":"PFP","qcls":323.0,"n2o":321.4}
  ],
  "fits": [
{"line":"1:1 line","qcls":260,"n2o":260},{"line":"1:1 line","qcls":330,"n2o":330},
{"line":"UCATS fit","qcls":260,"n2o":265.64},{"line":"UCATS fit","qcls":325,"n2o":324.73},
{"line":"PFP fit","qcls":300,"n2o":302.1},{"line":"PFP fit","qcls":324,"n2o":324.42}
  ],
  "keybox": [{"q1":261.9,"q2":284.8,"n1":327.8,"n2":287.5}],
  "keysymbols": [{"inst":"UCATS","q":264.9,"n":315.8},{"inst":"PFP","q":264.9,"n":303.2}],
  "keylines": [
{"line":"UCATS fit","q1":276.6,"q2":280.9,"n":315.8},
{"line":"PFP fit","q1":273.3,"q2":277.3,"n":303.2},
{"line":"1:1 line","q1":262.6,"q2":267.0,"n":290.5}
  ],
  "keytext": [
{"label":"HIPPO 1, 2009","q":262.3,"n":323.8},
{"label":"N₂O = a + b*QCLS","q":262.3,"n":319.8},
{"label":"UCATS","q":267.6,"n":314.7},
{"label":"fit","q":282.1,"n":314.7},
{"label":"a = 29.3, b = 0.909","q":262.3,"n":310.7},
{"label":"r² = 0.95","q":262.3,"n":306.5},
{"label":"PFP","q":268.1,"n":302.0},
{"label":"fit","q":278.6,"n":302.0},
{"label":"a = 23.1, b = 0.930","q":262.3,"n":298.0},
{"label":"r² = 0.94","q":262.3,"n":294.0},
{"label":"1:1 line","q":267.9,"n":289.6}
  ]
},
"vconcat": [
 {
  "width": 401, "height": 236,
  "layer": [
   {
    "data": {"name": "timeseries"},
    "encoding": {
     "x": {"field": "time", "type": "temporal",
       "scale": {"type": "utc", "domain": [{"year":2009,"month":1,"date":12,"hours":18,"utc":true},{"year":2009,"month":1,"date":13,"hours":2,"utc":true}]},
       "axis": {"orient": "bottom", "title": "Time (UT)",
         "values": [{"year":2009,"month":1,"date":12,"hours":18,"utc":true},{"year":2009,"month":1,"date":12,"hours":19,"utc":true},{"year":2009,"month":1,"date":12,"hours":20,"utc":true},{"year":2009,"month":1,"date":12,"hours":21,"utc":true},{"year":2009,"month":1,"date":12,"hours":22,"utc":true},{"year":2009,"month":1,"date":12,"hours":23,"utc":true},{"year":2009,"month":1,"date":13,"hours":0,"utc":true},{"year":2009,"month":1,"date":13,"hours":1,"utc":true}],
         "labelExpr": "utchours(datum.value) == 18 ? ['6:00 PM', '1/12/09'] : (utchours(datum.value) == 0 ? ['12:00 AM', '1/13/09'] : '')",
         "tickSize": 10, "labelPadding": 10, "labelLineHeight": 31.7, "labelBaseline": "top", "titlePadding": 14}},
     "y": {"field": "n2o", "type": "quantitative", "scale": {"domain": [290, 330], "nice": false, "zero": false},
       "axis": {"values": [290, 300, 310, 320, 330], "title": "N₂O (ppb)", "tickSize": 9.5, "labelPadding": 5.5, "titlePadding": 28}},
     "shape": {"field": "inst", "type": "ordinal", "scale": {"domain": ["UCATS", "QCLS", "PFP"], "range": ["circle", "square", "triangle-up"]},
       "legend": {"orient": "none", "legendX": 21.7, "legendY": 95.7, "title": ["HIPPO 1", "12 January 2009"], "titleFontSize": 18.5, "titleFontWeight": "normal", "titleLineHeight": 23.5, "titleColor": "black", "titleFont": "DejaVu Sans", "titlePadding": 2, "titleLimit": 400, "labelFontSize": 18.5, "labelFont": "DejaVu Sans", "labelColor": "black", "labelOffset": 15, "strokeColor": "black", "fillColor": "white", "padding": 5, "cornerRadius": 0, "rowPadding": 4.5, "symbolOffset": 12, "symbolStrokeWidth": 1.2, "symbolSize": 170,
         "encoding": {"symbols": {"size": {"value": {"expr": "datum.value === 'UCATS' ? 170 : (datum.value === 'PFP' ? 240 : 14)"}}}}}},
     "fill": {"field": "inst", "type": "ordinal", "scale": {"domain": ["UCATS", "QCLS", "PFP"], "range": ["transparent", "#00e000", "#000000"]},
       "legend": {"orient": "none", "legendX": 21.7, "legendY": 95.7, "title": ["HIPPO 1", "12 January 2009"], "titleFontSize": 18.5, "titleFontWeight": "normal", "titleLineHeight": 23.5, "titleColor": "black", "titleFont": "DejaVu Sans", "titlePadding": 2, "titleLimit": 400, "labelFontSize": 18.5, "labelFont": "DejaVu Sans", "labelColor": "black", "labelOffset": 15, "strokeColor": "black", "fillColor": "white", "padding": 5, "cornerRadius": 0, "rowPadding": 4.5, "symbolOffset": 12, "symbolStrokeWidth": 1.2, "symbolSize": 170,
         "encoding": {"symbols": {"size": {"value": {"expr": "datum.value === 'UCATS' ? 170 : (datum.value === 'PFP' ? 240 : 14)"}}}}}},
     "stroke": {"field": "inst", "type": "ordinal", "scale": {"domain": ["UCATS", "QCLS", "PFP"], "range": ["#ff0000", "transparent", "#000000"]},
       "legend": {"orient": "none", "legendX": 21.7, "legendY": 95.7, "title": ["HIPPO 1", "12 January 2009"], "titleFontSize": 18.5, "titleFontWeight": "normal", "titleLineHeight": 23.5, "titleColor": "black", "titleFont": "DejaVu Sans", "titlePadding": 2, "titleLimit": 400, "labelFontSize": 18.5, "labelFont": "DejaVu Sans", "labelColor": "black", "labelOffset": 15, "strokeColor": "black", "fillColor": "white", "padding": 5, "cornerRadius": 0, "rowPadding": 4.5, "symbolOffset": 12, "symbolStrokeWidth": 1.2, "symbolSize": 170,
         "encoding": {"symbols": {"size": {"value": {"expr": "datum.value === 'UCATS' ? 170 : (datum.value === 'PFP' ? 240 : 14)"}}}}}}
    },
    "layer": [
     {"transform": [{"filter": "datum.inst === 'UCATS'"}], "mark": {"type": "point", "filled": true, "size": 64, "strokeWidth": 1.1, "opacity": 1}},
     {"transform": [{"filter": "datum.inst === 'QCLS'"}], "mark": {"type": "point", "filled": true, "size": 17, "strokeWidth": 1.1, "opacity": 1}},
     {"transform": [{"filter": "datum.inst === 'PFP'"}], "mark": {"type": "point", "filled": true, "size": 92, "strokeWidth": 1.1, "opacity": 1}}
    ]
   },
   {
    "data": {"values": [{}]},
    "mark": {"type": "text", "font": "DejaVu Sans", "fontSize": 14, "fontWeight": "normal", "color": "black", "align": "center", "baseline": "middle"},
    "encoding": {
     "x": {"datum": {"year":2009,"month":1,"date":12,"hours":18,"minutes":21,"utc":true}, "type": "temporal",
       "axis": {"orient": "top", "labels": false, "title": null, "tickSize": 6,
         "values": [{"year":2009,"month":1,"date":12,"hours":18,"utc":true},{"year":2009,"month":1,"date":12,"hours":19,"utc":true},{"year":2009,"month":1,"date":12,"hours":20,"utc":true},{"year":2009,"month":1,"date":12,"hours":21,"utc":true},{"year":2009,"month":1,"date":12,"hours":22,"utc":true},{"year":2009,"month":1,"date":12,"hours":23,"utc":true},{"year":2009,"month":1,"date":13,"hours":0,"utc":true},{"year":2009,"month":1,"date":13,"hours":1,"utc":true}]}},
     "y": {"datum": 326.3, "type": "quantitative"},
     "text": {"value": "(a)"}
    }
   }
  ],
  "resolve": {"axis": {"x": "independent"}}
 },
 {
  "width": 401, "height": 262,
  "layer": [
   {
    "layer": [
     {
      "data": {"name": "scatter"},
      "transform": [{"filter": "datum.inst === 'UCATS'"}],
      "mark": {"type": "point", "shape": "circle", "filled": false, "stroke": "#ff0000", "size": 52, "strokeWidth": 1.1, "opacity": 1},
      "encoding": {
       "x": {"field": "qcls", "type": "quantitative", "scale": {"domain": [260, 330], "nice": false, "zero": false},
         "axis": {"orient": "bottom", "title": "QCLS N₂O (ppb)", "values": [260, 270, 280, 290, 300, 310, 320, 330],
           "labelExpr": "datum.value % 20 === 0 && datum.value < 330 ? datum.label : ''",
           "tickSize": {"condition": {"test": "datum.value % 20 === 0", "value": 9}, "value": 5},
           "labelPadding": 11, "titlePadding": 16}},
       "y": {"field": "n2o", "type": "quantitative", "scale": {"domain": [260, 330], "nice": false, "zero": false},
         "axis": {"title": "N₂O (ppb)", "values": [260, 270, 280, 290, 300, 310, 320, 330],
           "labelExpr": "datum.value % 20 === 0 && datum.value < 330 ? datum.label : ''",
           "tickSize": {"condition": {"test": "datum.value % 20 === 0", "value": 9.5}, "value": 5},
           "labelPadding": 5.5, "titlePadding": 28}}
      }
     },
     {
      "data": {"name": "fits"},
      "transform": [{"filter": "datum.line !== 'PFP fit'"}],
      "mark": {"type": "line", "strokeWidth": 2},
      "encoding": {
       "x": {"field": "qcls", "type": "quantitative"},
       "y": {"field": "n2o", "type": "quantitative"},
       "color": {"field": "line", "type": "nominal", "scale": {"domain": ["1:1 line", "UCATS fit", "PFP fit"], "range": ["#00e000", "#ff0000", "#000000"]}, "legend": null}
      }
     },
     {
      "data": {"name": "scatter"},
      "transform": [{"filter": "datum.inst === 'PFP'"}],
      "mark": {"type": "point", "shape": "triangle-up", "filled": true, "color": "#000000", "size": 100, "opacity": 1},
      "encoding": {
       "x": {"field": "qcls", "type": "quantitative"},
       "y": {"field": "n2o", "type": "quantitative"}
      }
     },
     {
      "data": {"name": "fits"},
      "transform": [{"filter": "datum.line === 'PFP fit'"}],
      "mark": {"type": "line", "strokeWidth": 2},
      "encoding": {
       "x": {"field": "qcls", "type": "quantitative"},
       "y": {"field": "n2o", "type": "quantitative"},
       "color": {"field": "line", "type": "nominal", "legend": null}
      }
     },
     {
      "data": {"name": "keybox"},
      "mark": {"type": "rect", "fill": "white", "stroke": "black", "strokeWidth": 1},
      "encoding": {
       "x": {"field": "q1", "type": "quantitative"},
       "x2": {"field": "q2"},
       "y": {"field": "n1", "type": "quantitative"},
       "y2": {"field": "n2"}
      }
     },
     {
      "data": {"name": "keytext"},
      "mark": {"type": "text", "align": "left", "baseline": "alphabetic", "font": "DejaVu Sans", "fontSize": 12, "color": "black"},
      "encoding": {
       "x": {"field": "q", "type": "quantitative"},
       "y": {"field": "n", "type": "quantitative"},
       "text": {"field": "label"}
      }
     },
     {
      "data": {"name": "keylines"},
      "mark": {"type": "rule", "strokeWidth": 2},
      "encoding": {
       "x": {"field": "q1", "type": "quantitative"},
       "x2": {"field": "q2"},
       "y": {"field": "n", "type": "quantitative"},
       "color": {"field": "line", "type": "nominal", "legend": null}
      }
     },
     {
      "data": {"name": "keysymbols"},
      "transform": [{"filter": "datum.inst === 'UCATS'"}],
      "mark": {"type": "point", "shape": "circle", "filled": false, "stroke": "#ff0000", "size": 52, "strokeWidth": 1.1, "opacity": 1},
      "encoding": {
       "x": {"field": "q", "type": "quantitative"},
       "y": {"field": "n", "type": "quantitative"}
      }
     },
     {
      "data": {"name": "keysymbols"},
      "transform": [{"filter": "datum.inst === 'PFP'"}],
      "mark": {"type": "point", "shape": "triangle-up", "filled": true, "color": "#000000", "size": 72, "opacity": 1},
      "encoding": {
       "x": {"field": "q", "type": "quantitative"},
       "y": {"field": "n", "type": "quantitative"}
      }
     }
    ]
   },
   {
    "data": {"values": [{}]},
    "mark": {"type": "text", "font": "DejaVu Sans", "fontSize": 14.5, "fontWeight": "normal", "color": "black", "align": "center", "baseline": "middle"},
    "encoding": {
     "x": {"datum": 298.1, "type": "quantitative",
       "axis": {"orient": "top", "labels": false, "title": null, "values": [260, 270, 280, 290, 300, 310, 320, 330],
         "tickSize": {"condition": {"test": "datum.value % 20 === 0", "value": 9}, "value": 5}}},
     "y": {"datum": 321.9, "type": "quantitative"},
     "text": {"value": "(b)"}
    }
   }
  ],
  "resolve": {"axis": {"x": "independent"}}
 }
]
}
